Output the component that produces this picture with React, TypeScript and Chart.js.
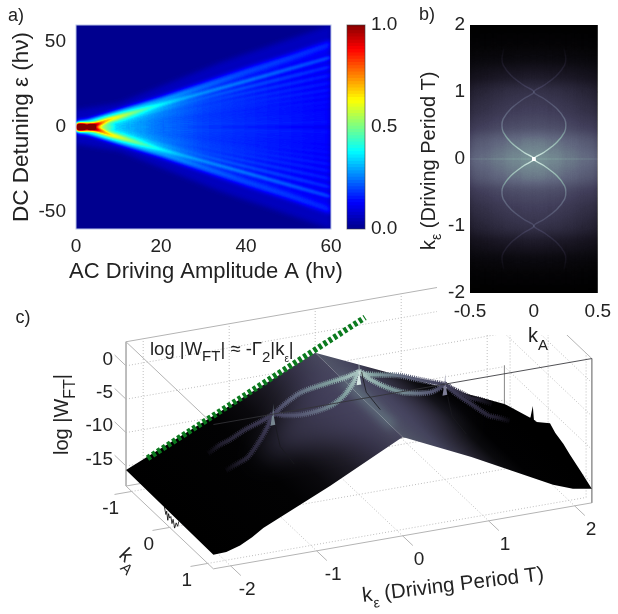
import React, { useEffect, useRef } from "react";
import { Chart, registerables } from "chart.js";
Chart.register(...registerables);

const FONT = "'Liberation Sans', Arial, sans-serif";
const INK = "#222";

/* ---------- panel a: ridges ---------- */
const aTicksX = [0, 20, 40, 60];
const aTicksY = [-50, 0, 50];
const coreA = [0, 1.5, 3, 4.5, 6.5, 9];
const coreLevel = [1, 0.95, 0.62, 0.26, 0.14, 0.06];
const outerA = [0, 3, 6, 10, 15, 20, 30, 40, 50, 60];
const outerEps = [1.5, 2.4, 4.6, 8, 12, 16, 24.5, 33, 41, 49.5];
const outerLevel = [0.36, 0.42, 0.42, 0.32, 0.25, 0.2, 0.15, 0.12, 0.1, 0.09];
const rayA = [3, 8, 25, 60];
const rayEpsAt60 = [41, 35.5, 30.5, 26, 22, 18.5, 15, 12, 9, 6.5, 4, 2];
const rayEpsAt25 = [16.5, 14, 12, 10, 8.5, 7, 5.8, 4.6, 3.5, 2.5, 1.5, 0.7];
const rayEpsAt8 = [4.8, 3.8, 3, 2.4, 1.9, 1.5, 1.2, 0.9, 0.7, 0.5, 0.3, 0.1];
const rayLevelAt8 = [0.2, 0.14, 0.09, 0.04, 0.03, 0.02, 0.02, 0.01, 0.01, 0.01, 0.01, 0.01];
const rayLevelAt25 = [0.12, 0.07, 0.05, 0.04, 0.03, 0.03, 0.02, 0.02, 0.02, 0.02, 0.02, 0.02];
const rayLevelAt60 = [0.08, 0.05, 0.04, 0.03, 0.03, 0.025, 0.025, 0.02, 0.02, 0.02, 0.02, 0.02];
const glowA = [0, 10, 20, 34, 60];
const glowEps = [10, 14, 24, 38, 60];
const glowLevel = [0.05, 0.05, 0.05, 0.05, 0.05];
const fanA = [3, 10, 20, 30, 60];
const fanEps = [0, 7, 15.5, 24, 49];
const fanLevel = [0.14, 0.2, 0.14, 0.1, 0.06];

/* ---------- colour bar ---------- */
const barTicks = [0, 0.5, 1];
const barSteps = 64;
const jetStops: [number, number[]][] = [
  [0, [0, 0, 143]], [0.125, [0, 0, 255]], [0.375, [0, 255, 255]],
  [0.625, [255, 255, 0]], [0.875, [255, 0, 0]], [1, [128, 0, 0]],
];
const boneStops: [number, number[]][] = [
  [0, [0, 0, 0]], [0.15, [25, 22, 35]], [0.35, [65, 62, 90]], [0.5, [95, 100, 125]],
  [0.65, [125, 155, 155]], [0.85, [190, 215, 210]], [1, [255, 255, 255]],
];

/* ---------- panel b ---------- */
const bTicksX = [-0.5, 0, 0.5];
const bTicksY = [-2, -1, 0, 1, 2];
const cellKa = [0, 0.125, 0.25, 0.375, 0.5, 0.625];
const cellKe = [0, 0.25, 0.5, 0.75, 1, 1.25, 1.5, 1.75, 2];
const cellLevels = [
  [0.6, 0.58, 0.54, 0.5, 0.47, 0.45],
  [0.54, 0.52, 0.49, 0.45, 0.41, 0.39],
  [0.39, 0.38, 0.36, 0.33, 0.3, 0.28],
  [0.33, 0.32, 0.3, 0.27, 0.24, 0.22],
  [0.28, 0.27, 0.25, 0.22, 0.19, 0.17],
  [0.16, 0.15, 0.14, 0.12, 0.1, 0.09],
  [0.06, 0.06, 0.05, 0.05, 0.04, 0.04],
  [0.02, 0.02, 0.02, 0.015, 0.01, 0.01],
  [0, 0, 0, 0, 0, 0],
];
const bandKe = [0, 0.1, 0.25, 0.4, 0.5, 0.6, 0.75, 0.9, 1, 1.1, 1.25, 1.4, 1.5, 1.65];
const bandKa = [0, 0.08, 0.18, 0.24, 0.25, 0.24, 0.18, 0.08, 0, 0.08, 0.18, 0.24, 0.25, 0.235];
const bandLevelB = [0.3, 0.24, 0.2, 0.18, 0.17, 0.16, 0.14, 0.11, 0.1, 0.09, 0.08, 0.08, 0.07, 0.02];

/* ---------- panel c: log|W_FT| surface ---------- */
const keLimit = 2.2;
const kaLimit = 1.15;
const zFloor = -18;
const zRoof = 3.6;
const keTicks = [-2, -1, 0, 1, 2];
const kaTicks = [-1, 0, 1];
const zTicks = [0, -5, -10, -15];
const bandZ = [0.3, -0.6, -1.6, -2.3, -2.6, -2.9, -3.4, -3.7, -3.8, -5, -6.5, -8, -8.5, -9.4];
const bandLevelC = [0.8, 0.74, 0.66, 0.6, 0.56, 0.52, 0.46, 0.4, 0.36, 0.32, 0.26, 0.22, 0.18, 0.05];
const apexBackZ = -3;
const backCornerZ = -15.6;
const rightCornerKa = [-1.15, -1.08, -0.47, -0.3, 0.05, 0.19, 0.4, 0.58, 0.85, 1.15];
const rightCornerZ = [-15.6, -15.4, -14, -13.7, -12, -12.7, -13.2, -13.9, -14.8, -15.9];
const frontRightKe = [0, 0.8, 1.75, 1.98, 2.2];
const frontRightZ = [-3.2, -8, -14.3, -15.4, -15.9];
const frontLeftKe = [-2.2, -2.05, -1.89, -1.75, -1.62, -0.84, 0];
const frontLeftZ = [-15.9, -15.8, -15.2, -14.3, -13.2, -8.6, -3.2];
const leftFaceKe = [0, 0.3, 0.6, 0.9, 1.2, 2.2];
const leftFaceRgb = ["rgb(72,72,94)", "rgb(50,47,68)", "rgb(28,26,36)", "rgb(10,9,13)", "rgb(2,2,3)", "rgb(0,0,0)"];
const rightFaceKe = [0, 0.4, 0.8, 1.1, 1.4, 2.2];
const rightFaceRgb = ["rgb(82,88,104)", "rgb(66,66,90)", "rgb(35,33,45)", "rgb(10,10,13)", "rgb(1,1,2)", "rgb(0,0,0)"];
const lobeKe = [-1.2, 0, 1.3, 0];
const lobeKa = [0, -0.95, 0, 0.95];
const lobeZ = [-10.1, -3, -10.7, -3];
const ridgeGlowKa = [-0.45, 0.9];
const spikeKe = [-1, 0, 1];
const spikeBaseZ = [-4.6, -0.8, -4.6];
const spikeTipZ = [-3.4, 3, -3.1];
const spikeColor = ["rgb(120,135,145)", "rgb(215,232,228)", "rgb(125,125,150)"];
const darkSpikeKa = [-0.08, -0.01, 0.05, 0.08, 0.16];
const darkSpikeZ = [-11.8, -11, -9, -10.9, -10.7];
const creaseKa = [0.05, 0.1, 0.17, 0.45];
const creaseZ = [0.6, -0.5, -1.8, -3];
const creaseDrop = 5.9;
const creaseOrigins = [-1, 0, 1];
const teethKa = [-0.14, -0.1, -0.08, -0.05, -0.03, 0, 0.03, 0.06, 0.09, 0.13, 0.17, 0.21, 0.24];
const teethZ = [-15.7, -16.6, -16, -17.2, -16.1, -16.6, -16.2, -17.1, -16.3, -17.4, -16.4, -16.7, -15.8];
const greenKe = [-1.95, 0.58];
const greenZ = [-14.4, 1];

/* ---------- helpers ---------- */
const gray = (v: number) => {
  const g = Math.round(Math.min(1, Math.max(0, v)) * 255);
  return `rgb(${g},${g},${g})`;
};
const ramp = (stops: [number, number[]][], v: number) => {
  for (let i = 1; i < stops.length; i++) {
    if (v <= stops[i][0]) {
      const [a, ca] = stops[i - 1];
      const [b, cb] = stops[i];
      const t = (v - a) / (b - a);
      return ca.map((c, k) => c + (cb[k] - c) * t);
    }
  }
  return stops[stops.length - 1][1];
};
const rgb = (c: number[]) => `rgb(${c.map(Math.round).join(",")})`;
const makeLut = (stops: [number, number[]][]) =>
  Array.from({ length: 256 }, (_, i) => ramp(stops, i / 255).map(Math.round));

/* gradient along a monotonic run of pixel positions */
const pixelGrad = (ctx: any, pos: number[], cols: string[], vertical = false) => {
  if (!pos.every(Number.isFinite)) return cols[0];
  const lo = Math.min(...pos);
  const hi = Math.max(...pos);
  const g = vertical ? ctx.createLinearGradient(0, lo, 0, hi) : ctx.createLinearGradient(lo, 0, hi, 0);
  pos.forEach((p, i) => g.addColorStop(Math.min(1, Math.max(0, (p - lo) / (hi - lo || 1))), cols[i]));
  return g;
};

const setState = (chart: any, i: number, comp: string) => {
  const ds = chart.data.datasets[i];
  chart.ctx.filter = ds && ds.blurPx ? `blur(${ds.blurPx}px)` : "none";
  chart.ctx.globalCompositeOperation = (ds && ds.comp) || comp;
};
const mapPlugin = (stops: [number, number[]][], edge: string) => {
  const lut = makeLut(stops);
  return {
    id: "mapPlugin",
    beforeDatasetsDraw(chart: any) {
      const { left, top, width, height } = chart.chartArea;
      chart.ctx.save();
      chart.ctx.fillStyle = "#000";
      chart.ctx.fillRect(left, top, width, height);
      chart.ctx.restore();
      setState(chart, chart.data.datasets.length - 1, "lighter");
    },
    afterDatasetDraw(chart: any, args: any) {
      setState(chart, args.index - 1, "lighter");
    },
    afterDatasetsDraw(chart: any) {
      const ctx = chart.ctx;
      ctx.filter = "none";
      ctx.globalCompositeOperation = "source-over";
      const { left, top, width, height } = chart.chartArea;
      const img = ctx.getImageData(left, top, width, height);
      const d = img.data;
      for (let i = 0; i < d.length; i += 4) {
        const c = lut[d[i]];
        d[i] = c[0]; d[i + 1] = c[1]; d[i + 2] = c[2]; d[i + 3] = 255;
      }
      ctx.putImageData(img, left, top);
      if (edge) {
        ctx.strokeStyle = edge;
        ctx.lineWidth = 1;
        ctx.strokeRect(left, top, width, height);
      }
    },
  };
};
type Part = { t: string; s: number; d?: number };
const rich = (ctx: any, x: number, y: number, a: number, parts: Part[]) => {
  ctx.save();
  ctx.translate(x, y);
  ctx.rotate(a);
  ctx.fillStyle = INK;
  ctx.textAlign = "left";
  ctx.textBaseline = "alphabetic";
  let cx = 0;
  for (const p of parts) {
    ctx.font = `${p.s}px ${FONT}`;
    ctx.fillText(p.t, cx, p.d || 0);
    cx += ctx.measureText(p.t).width;
  }
  ctx.restore();
};
const label = (ctx: any, t: string, x: number, y: number, s: number, al: CanvasTextAlign = "center") => {
  ctx.save();
  ctx.font = `${s}px ${FONT}`;
  ctx.fillStyle = INK;
  ctx.textAlign = al;
  ctx.textBaseline = "middle";
  ctx.fillText(t, x, y);
  ctx.restore();
};
const fixedTicks = (vals: number[]) => (scale: any) => {
  scale.ticks = vals.map((value) => ({ value }));
};
const tickFont = { family: FONT, size: 19 };

/* ---------- panel a ---------- */
const makeA = (cv: HTMLCanvasElement) => {
  const ds: any[] = [];
  const xGrad = (xs: number[], levels: number[]) => (c: any) =>
    pixelGrad(c.chart.ctx, xs.map((x) => c.chart.scales.x.getPixelForValue(x)), levels.map(gray));
  const add = (xs: number[], ys: number[], levels: number[], w: number, blurPx: number, sign: number) =>
    ds.push({
      data: xs.map((x, i) => ({ x, y: sign * ys[i] })),
      showLine: true, pointRadius: 0, borderWidth: w, blurPx, borderCapStyle: "butt",
      borderColor: xGrad(xs, levels),
    });
  const poly = (xs: number[], ys: number[], levels: number[], blurPx: number) =>
    ds.push({
      data: [...xs.map((x, i) => ({ x, y: ys[i] })), ...[...xs].reverse().map((x, i) => ({ x, y: -[...ys].reverse()[i] }))],
      showLine: true, pointRadius: 0, borderWidth: 0, fill: "shape", backgroundColor: xGrad(xs, levels), blurPx,
    });
  poly(glowA, glowEps, glowLevel, 2.5);
  poly(fanA, fanEps, fanLevel, 2.5);
  for (const s of [1, -1]) {
    add(outerA, outerEps, outerLevel, 6, 2, s);
    rayEpsAt60.forEach((e, i) =>
      add(rayA, [0.3, rayEpsAt8[i], rayEpsAt25[i], e], [rayLevelAt8[i], rayLevelAt8[i], rayLevelAt25[i], rayLevelAt60[i]], 3.5, 1.3, s));
  }
  add(coreA, coreA.map(() => 0), coreLevel, 7, 1.5, 1);
  return new Chart(cv, {
    type: "scatter",
    data: { datasets: ds },
    options: {
      responsive: false, animation: false, devicePixelRatio: 1,
      layout: { padding: { left: 0, top: 25, right: 287, bottom: 324 } },
      plugins: { legend: { display: false }, tooltip: { enabled: false } },
      scales: {
        x: {
          type: "linear", min: 0, max: 60, afterBuildTicks: fixedTicks(aTicksX), afterFit: (s: any) => { s.height = 61; },
          grid: { display: false, drawTicks: false }, border: { display: false },
          ticks: { font: tickFont, color: INK, padding: 6, maxRotation: 0, autoSkip: false },
        },
        y: {
          type: "linear", min: -60, max: 60, afterBuildTicks: fixedTicks(aTicksY), afterFit: (s: any) => { s.width = 76; },
          grid: { display: false, drawTicks: false }, border: { display: false },
          ticks: { font: tickFont, color: INK, padding: 10, autoSkip: false },
          title: { display: true, text: "DC Detuning \u03b5 (h\u03bd)", font: { family: FONT, size: 22.5 }, color: INK, padding: { top: 8, bottom: 0 } },
        },
      },
    } as any,
    plugins: [mapPlugin(jetStops, "#b9c3e8"), {
      id: "aLabel",
      afterDraw(chart: any) {
        label(chart.ctx, "a)", 16, 16, 18);
        label(chart.ctx, "AC Driving Amplitude A (h\u03bd)", 206, 272, 22);
      },
    }],
  } as any);
};

/* ---------- colour bar ---------- */
const makeBar = (cv: HTMLCanvasElement) =>
  new Chart(cv, {
    type: "bar",
    data: {
      labels: ["jet"],
      datasets: Array.from({ length: barSteps }, (_, i) => ({
        data: [[i / barSteps, (i + 1.3) / barSteps > 1 ? 1 : (i + 1.3) / barSteps]],
        backgroundColor: rgb(ramp(jetStops, (i + 0.5) / barSteps)),
        grouped: false, barPercentage: 1, categoryPercentage: 1,
      })),
    },
    options: {
      responsive: false, animation: false, devicePixelRatio: 1,
      layout: { padding: { left: 347, top: 25, right: 208, bottom: 385 } },
      plugins: { legend: { display: false }, tooltip: { enabled: false } },
      scales: {
        x: { display: false },
        y: {
          position: "right", min: 0, max: 1, afterBuildTicks: fixedTicks(barTicks), afterFit: (s: any) => { s.width = 45; },
          grid: { display: false, drawTicks: false }, border: { display: false },
          ticks: { font: tickFont, color: INK, padding: 6, callback: (v: any) => Number(v).toFixed(1), autoSkip: false },
        },
      },
    } as any,
    plugins: [{
      id: "barEdge",
      afterDraw(chart: any) {
        const { left, top, width, height } = chart.chartArea;
        chart.ctx.strokeStyle = "rgba(60,60,60,0.6)";
        chart.ctx.strokeRect(left, top, width, height);
      },
    }],
  } as any);

/* ---------- panel b ---------- */
const makeB = (cv: HTMLCanvasElement) => {
  const cells: any[] = [];
  const cols: string[] = [];
  cellKe.forEach((ke, r) =>
    cellKa.forEach((ka, c) => {
      for (const sy of ke === 0 ? [1] : [1, -1])
        for (const sx of ka === 0 ? [1] : [1, -1]) {
          cells.push({ x: sx * ka, y: sy * ke });
          cols.push(gray(cellLevels[r][c]));
        }
    }));
  const ds: any[] = [{
    data: cells, pointStyle: "rect", pointRadius: 11.9, pointBorderWidth: 0, borderWidth: 0,
    backgroundColor: cols, blurPx: 6, showLine: false,
  }];
  for (const sKa of [1, -1]) {
    const idx = [...bandKe.keys()];
    const order = [...[...idx].reverse().slice(0, -1).map((i) => [-bandKe[i], i]), ...idx.map((i) => [bandKe[i], i])];
    const lv = order.map(([, i]) => bandLevelB[i]);
    ds.push({
      data: order.map(([ke, i]) => ({ x: sKa * bandKa[i], y: ke })),
      showLine: true, tension: 0.35, pointRadius: 0, borderWidth: 1.4, blurPx: 0.6,
      borderColor: (c: any) => pixelGrad(c.chart.ctx, order.map(([ke]) => c.chart.scales.y.getPixelForValue(ke)), lv.map(gray), true),
    });
  }
  ds.push({
    data: [{ x: -0.5, y: 0 }, { x: 0.5, y: 0 }], showLine: true, pointRadius: 0, borderWidth: 1, borderColor: gray(0.05),
  });
  ds.push({
    data: [{ x: -0.5, y: 1 }, { x: 0.5, y: 1 }], showLine: true, pointRadius: 0, borderWidth: 1,
    borderColor: "rgba(0,0,0,0.35)", comp: "source-over",
  });
  ds.push({
    data: [{ x: -0.5, y: -1 }, { x: 0.5, y: -1 }], showLine: true, pointRadius: 0, borderWidth: 1,
    borderColor: "rgba(0,0,0,0.12)", comp: "source-over",
  });
  ds.push({ data: [{ x: 0, y: 0 }], pointRadius: 2, backgroundColor: gray(0.4), borderWidth: 0, blurPx: 0.7, showLine: false });
  return new Chart(cv, {
    type: "scatter",
    data: { datasets: ds },
    options: {
      responsive: false, animation: false, devicePixelRatio: 1,
      layout: { padding: { left: 420, top: 25, right: 14, bottom: 281 } },
      plugins: { legend: { display: false }, tooltip: { enabled: false } },
      scales: {
        x: {
          type: "linear", min: -0.5, max: 0.5, afterBuildTicks: fixedTicks(bTicksX), afterFit: (s: any) => { s.height = 40; },
          grid: { display: false, drawTicks: false }, border: { display: false },
          ticks: { font: tickFont, color: INK, padding: 7, autoSkip: false, maxRotation: 0, callback: (v: any) => String(v) },
        },
        y: {
          type: "linear", min: -2, max: 2, afterBuildTicks: fixedTicks(bTicksY), afterFit: (s: any) => { s.width = 50; },
          grid: { display: false, drawTicks: false }, border: { display: false },
          ticks: { font: tickFont, color: INK, padding: 5, autoSkip: false },
        },
      },
    } as any,
    plugins: [
      {
        id: "bMask",
        beforeDraw(chart: any) {
          const ctx = chart.ctx;
          ctx.fillStyle = "#fff";
          ctx.fillRect(437, 0, 181, 335);
        },
        afterDraw(chart: any) {
          const ctx = chart.ctx;
          label(ctx, "b)", 427, 15, 18);
          rich(ctx, 435, 250, -Math.PI / 2, [{ t: "k", s: 20 }, { t: "\u03b5", s: 14, d: 6 }, { t: " (Driving Period T)", s: 20 }]);
          rich(ctx, 528, 342, 0, [{ t: "k", s: 20 }, { t: "A", s: 15, d: 8 }]);
        },
      },
      mapPlugin(boneStops, ""),
    ],
  } as any);
};

/* ---------- panel c ---------- */
const P = (ke: number, ka: number, z: number) => ({ x: 358.9 + 86 * ke + 38 * ka, y: 374.2 - 15 * ke + 36 * ka - 6.68 * z });

const makeC = (cv: HTMLCanvasElement) => {
  const paint: any[] = [];
  const path = (pts: number[][], color: string, w = 1, dash?: number[]) =>
    paint.push({
      data: pts.map(([a, b, c]) => P(a, b, c)), showLine: true, pointRadius: 0, borderWidth: w,
      borderColor: color, borderDash: dash || [],
    });
  const dot = "#bdbdbd";
  const d = [1, 2];
  for (const z of zTicks) {
    path([[-keLimit, -kaLimit, z], [keLimit, -kaLimit, z]], dot, 1, d);
    path([[keLimit, -kaLimit, z], [keLimit, kaLimit, z]], dot, 1, d);
  }
  for (const ke of keTicks) {
    path([[ke, -kaLimit, zFloor], [ke, -kaLimit, zRoof]], dot, 1, d);
    path([[ke, -kaLimit, zFloor], [ke, kaLimit, zFloor]], dot, 1, d);
  }
  for (const ka of kaTicks) {
    path([[keLimit, ka, zFloor], [keLimit, ka, zRoof]], dot, 1, d);
    path([[-keLimit, ka, zFloor], [keLimit, ka, zFloor]], dot, 1, d);
  }
  const edge = "#b4b4b4";
  const [k, a] = [keLimit, kaLimit];
  path([[-k, -a, zFloor], [-k, a, zFloor]], edge);
  path([[-k, a, zFloor], [k, a, zFloor]], edge);
  path([[k, a, zRoof], [k, a, zFloor]], "#9a9a9a");
  path([[-k, -a, zRoof], [-k, -a, zFloor]], edge);
  path([[-k, -a, zRoof], [k, -a, zRoof]], edge);
  path([[-k, -a, zRoof], [-k, a, zRoof]], edge);
  path([[-k, -a, zFloor], [k, -a, zFloor]], edge);
  path([[k, a, zRoof], [k, -a, zRoof]], edge);
  path([[k, -a, backCornerZ], [k, -a, -9.8]], "#888");
  for (const ke of keTicks) path([[ke, a, zFloor], [ke, a + 0.27, zFloor]], edge);
  for (const ka of kaTicks) path([[-k, ka, zFloor], [-k - 0.2, ka, zFloor]], edge);
  for (const z of zTicks) path([[-k, -a, z], [-k, -a - 0.3, z]], edge);

  const faceFill = (start: number[], n: number[], len: number, kes: number[], cols: string[]) => (c: any) => {
    const g = c.chart.ctx.createLinearGradient(start[0], start[1], start[0] + n[0] * len, start[1] + n[1] * len);
    kes.forEach((ke, i) => g.addColorStop(ke / keLimit, cols[i]));
    return g;
  };
  paint.push({
    data: [
      P(-k, -a, backCornerZ), P(0, -a, apexBackZ),
      ...frontLeftKe.map((ke, i) => P(ke, a, frontLeftZ[i])).reverse(),
    ],
    showLine: true, pointRadius: 0, borderWidth: 0, fill: "shape",
    backgroundColor: faceFill([360.9, 395], [-0.69, 0.723], 218, leftFaceKe, leftFaceRgb),
  });
  paint.push({
    data: [
      P(0, -a, apexBackZ), P(k, -a, backCornerZ),
      ...rightCornerKa.map((ka, i) => P(k, ka, rightCornerZ[i])),
      ...frontRightKe.map((ke, i) => P(ke, a, frontRightZ[i])).reverse(),
    ],
    showLine: true, pointRadius: 0, borderWidth: 0, fill: "shape",
    backgroundColor: faceFill([360.9, 395], [0.69, -0.723], 92, rightFaceKe, rightFaceRgb),
  });
  /* broad glow over the middle of the roof, painted only on top of the faces */
  paint.push({
    data: lobeKe.map((ke, i) => P(ke, lobeKa[i], lobeZ[i])),
    showLine: true, pointRadius: 0, borderWidth: 0, fill: "shape",
    backgroundColor: "rgba(74,70,100,0.6)", blurPx: 12, comp: "source-atop",
  });
  paint.push({
    data: ridgeGlowKa.map((ka) => P(0, ka, -3)), showLine: true, pointRadius: 0, borderWidth: 9,
    borderColor: "rgba(125,165,160,0.42)", blurPx: 5, comp: "source-atop",
  });

  for (const sKa of [-1, 1]) {
    const idx = [...bandKe.keys()];
    const order = [...[...idx].reverse().slice(0, -1).map((i) => [-1, i]), ...idx.map((i) => [1, i])];
    const pts = order.map(([s, i]) => P(s * bandKe[i], sKa * bandKa[i], bandZ[i]));
    const colors = order.map(([, i]) => rgb(ramp(boneStops, bandLevelC[i])));
    const gradFill = (c: any) => pixelGrad(c.chart.ctx, pts.map((p) => p.x), colors);
    paint.push({ data: pts, showLine: true, tension: 0.3, pointRadius: 0, borderWidth: 6, borderDash: [1, 1], borderColor: gradFill, blurPx: 0.5 });
    paint.push({ data: pts, showLine: true, tension: 0.3, pointRadius: 0, borderWidth: 3, borderColor: gradFill, blurPx: 0.5 });
  }
  spikeKe.forEach((ke, i) => {
    const b = spikeBaseZ[i];
    paint.push({
      data: [
        P(ke - 0.028, 0, b - 0.8), P(ke - 0.01, 0, b + 0.6), P(ke - 0.003, 0, b + 2.4), P(ke, 0, spikeTipZ[i]),
        P(ke + 0.003, 0, b + 2.4), P(ke + 0.01, 0, b + 0.6), P(ke + 0.028, 0, b - 0.8),
      ],
      showLine: true, pointRadius: 0, borderWidth: 0, fill: "shape", backgroundColor: spikeColor[i], blurPx: 0.4,
    });
  });
  creaseOrigins.forEach((ke0) => {
    const drop = creaseDrop * Math.abs(ke0);
    path(creaseKa.map((ka, i) => [ke0 + (ka > 0.4 ? 0.05 : 0.01), ka, creaseZ[i] - drop]), "rgba(25,25,30,0.8)", 1);
  });
  paint.push({
    data: darkSpikeKa.map((ka, i) => P(2, ka, darkSpikeZ[i])),
    showLine: true, pointRadius: 0, borderWidth: 0, fill: "shape", backgroundColor: "#000",
  });
  path(teethKa.map((ka, i) => [-k, ka, teethZ[i]]), "#000", 0.8);
  path([[-k, a, zRoof], [k, a, zRoof]], "rgba(50,50,55,0.85)");
  path(greenKe.map((ke, i) => [ke, -a, greenZ[i]]), "#0b7a1e", 6, [3.5, 2.5]);

  return new Chart(cv, {
    type: "scatter",
    data: { datasets: paint.reverse() },
    options: {
      responsive: false, animation: false, devicePixelRatio: 1,
      layout: { padding: 0 },
      plugins: { legend: { display: false }, tooltip: { enabled: false } },
      scales: {
        x: { type: "linear", min: 0, max: 618, display: false },
        y: { type: "linear", min: 0, max: 614, reverse: true, display: false },
      },
    } as any,
    plugins: [{
      id: "cState",
      beforeDatasetsDraw(chart: any) { setState(chart, chart.data.datasets.length - 1, "source-over"); },
      afterDatasetDraw(chart: any, args: any) { setState(chart, args.index - 1, "source-over"); },
      afterDatasetsDraw(chart: any) { chart.ctx.filter = "none"; chart.ctx.globalCompositeOperation = "source-over"; },
      afterDraw(chart: any) {
        const ctx = chart.ctx;
        label(ctx, "c)", 23, 318, 18);
        for (const ke of keTicks) { const p = P(ke, kaLimit, zFloor); label(ctx, String(ke), p.x + 16.5, p.y + 24, 19); }
        for (const ka of kaTicks) { const p = P(-keLimit, ka, zFloor); label(ctx, String(ka), p.x - 21, p.y + 17, 19); }
        for (const z of zTicks) { const p = P(-keLimit, -kaLimit, z); label(ctx, String(z), 113, p.y - 6.5, 19, "right"); }
        rich(ctx, 68, 455, -Math.PI / 2, [{ t: "log |W", s: 20 }, { t: "FT", s: 16, d: 7 }, { t: "|", s: 20 }]);
        rich(ctx, 118, 556, Math.PI / 4, [{ t: "k", s: 20 }, { t: "A", s: 15, d: 8 }]);
        rich(ctx, 363, 602, -0.12, [{ t: "k", s: 20.5 }, { t: "\u03b5", s: 14, d: 7 }, { t: " (Driving Period T)", s: 20.5 }]);
        rich(ctx, 150, 355, 0, [
          { t: "log |W", s: 18.5 }, { t: "FT", s: 15, d: 6 }, { t: "| \u2248 -\u0393", s: 18.5 }, { t: "2", s: 15, d: 7 },
          { t: "|k", s: 18.5 }, { t: "\u03b5", s: 10, d: 7 }, { t: "|", s: 18.5 },
        ]);
      },
    }],
  } as any);
};

export default function App() {
  const c = useRef<HTMLCanvasElement>(null);
  const b = useRef<HTMLCanvasElement>(null);
  const a = useRef<HTMLCanvasElement>(null);
  const bar = useRef<HTMLCanvasElement>(null);
  useEffect(() => {
    const charts = [makeC(c.current!), makeB(b.current!), makeA(a.current!), makeBar(bar.current!)];
    return () => charts.forEach((x) => x.destroy());
  }, []);
  const st: React.CSSProperties = { position: "absolute", left: 0, top: 0 };
  return (
    <div style={{ position: "absolute", left: 0, top: 0, width: 618, height: 614, overflow: "hidden", background: "#fff", filter: "blur(0.45px)" }}>
      <canvas ref={c} width={618} height={614} style={st} />
      <canvas ref={b} width={618} height={614} style={st} />
      <canvas ref={a} width={618} height={614} style={st} />
      <canvas ref={bar} width={618} height={614} style={st} />
    </div>
  );
}
